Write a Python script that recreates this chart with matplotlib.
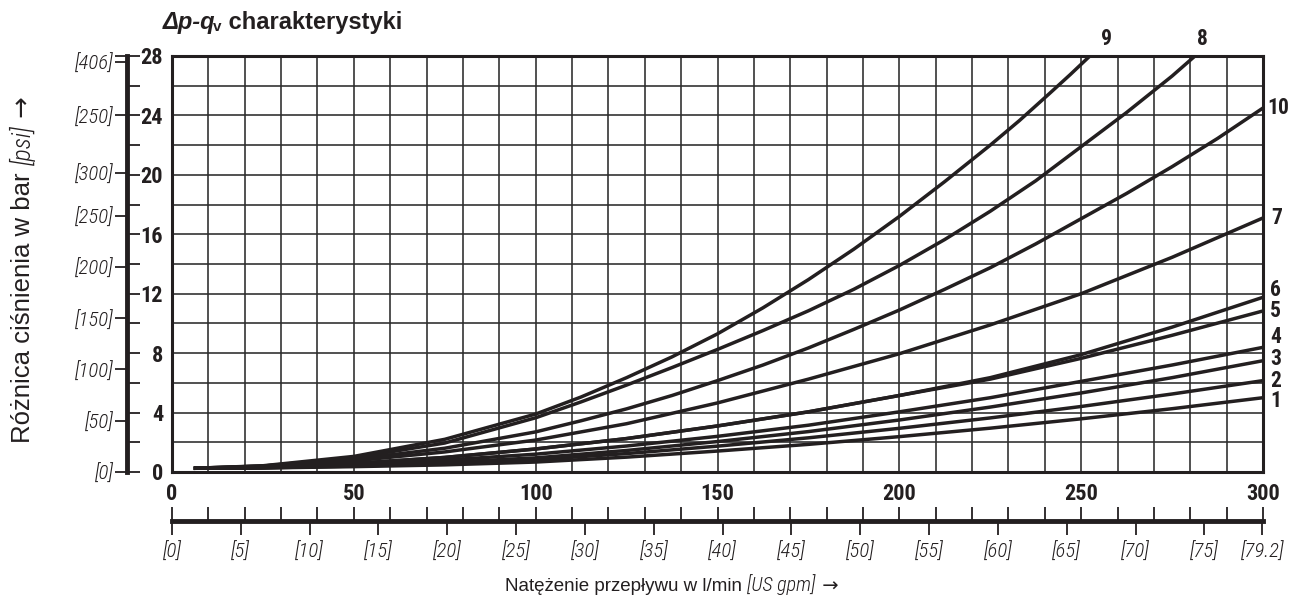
import os
import matplotlib
matplotlib.use("Agg")
import matplotlib.pyplot as plt
from matplotlib import font_manager
from matplotlib.font_manager import FontProperties

# ---------------- data ----------------
flow = [6, 25, 50, 75, 100, 125, 150, 175, 200, 225, 250, 275, 300]
curve_1 = [0.25, 0.27, 0.36, 0.48, 0.67, 1.00, 1.41, 1.86, 2.38, 2.95, 3.58, 4.26, 5.00]
curve_2 = [0.25, 0.28, 0.40, 0.57, 0.83, 1.24, 1.74, 2.30, 2.94, 3.64, 4.41, 5.25, 6.15]
curve_3 = [0.25, 0.28, 0.45, 0.65, 0.95, 1.45, 2.05, 2.72, 3.50, 4.37, 5.32, 6.35, 7.49]
curve_4 = [0.25, 0.30, 0.50, 0.80, 1.20, 1.75, 2.40, 3.15, 4.05, 5.00, 6.10, 7.20, 8.39]
curve_5 = [0.25, 0.32, 0.58, 0.98, 1.55, 2.25, 3.10, 4.05, 5.15, 6.25, 7.65, 9.20, 10.84]
curve_6 = [0.25, 0.32, 0.58, 0.98, 1.55, 2.25, 3.10, 4.05, 5.15, 6.35, 7.90, 9.75, 11.76]
curve_7 = [0.25, 0.35, 0.75, 1.35, 2.15, 3.25, 4.65, 6.25, 7.96, 9.90, 12.00, 14.45, 17.10]

flow_10 = [6, 25, 50, 75, 100, 112.5, 125, 137.5, 150, 162.5, 175, 187.5, 200,
           212.5, 225, 237.5, 250, 262.5, 275, 287.5, 300]
curve_10 = [0.25, 0.40, 0.85, 1.60, 2.70, 3.45, 4.25, 5.15, 6.15, 7.20, 8.35, 9.60, 10.90,
            12.30, 13.75, 15.35, 17.05, 18.75, 20.55, 22.45, 24.50]

flow_8 = [6, 25, 50, 75, 100, 112.5, 125, 137.5, 150, 162.5, 175, 187.5, 200,
          212.5, 225, 237.5, 250, 262.5, 275, 281.3]
curve_8 = [0.25, 0.40, 0.95, 1.95, 3.65, 4.72, 5.85, 7.03, 8.25, 9.52, 10.85, 12.30, 13.90,
           15.65, 17.55, 19.60, 21.90, 24.20, 26.65, 28.00]

flow_9 = [6, 25, 50, 75, 100, 112.5, 125, 137.5, 150, 162.5, 175, 187.5, 200,
          212.5, 225, 233, 241.4, 247, 252.4]
curve_9 = [0.25, 0.42, 1.05, 2.20, 3.90, 5.05, 6.35, 7.75, 9.30, 11.05, 12.95, 15.00, 17.20,
           19.55, 22.00, 23.65, 25.50, 26.75, 28.00]

curve_names = ["1", "2", "3", "4", "5", "6", "7", "10", "8", "9"]

x_ticks = [0, 50, 100, 150, 200, 250, 300]
bar_ticks = [0, 4, 8, 12, 16, 20, 24, 28]
psi_tick_pos = [0, 3.45, 6.9, 10.34, 13.79, 17.24, 20.1, 24.0, 27.6]
psi_tick_labels = ["[0]", "[50]", "[100]", "[150]", "[200]", "[250]", "[300]", "[250]", "[406]"]
gpm_ticks = [0, 5, 10, 15, 20, 25, 30, 35, 40, 45, 50, 55, 60, 65, 70, 75, 79.2]
gpm_labels = ["[0]", "[5]", "[10]", "[15]", "[20]", "[25]", "[30]", "[35]", "[40]",
              "[45]", "[50]", "[55]", "[60]", "[65]", "[70]", "[75]", "[79.2]"]
LPM_PER_GPM = 3.78541

# ---------------- fonts ----------------
files = {os.path.basename(f.fname): f.fname for f in font_manager.fontManager.ttflist}


def pick(names):
    for n in names:
        if n in files:
            return files[n]
    return None


cond_bold = pick(["LiberationSansNarrow-Bold.ttf", "RobotoCondensed-Bold.ttf",
                  "NotoSans-CondensedBold.ttf", "DejaVuSansCondensed-Bold.ttf"])
cond_ital = pick(["RobotoCondensed-LightItalic.ttf", "LiberationSansNarrow-Italic.ttf",
                  "RobotoCondensed-Italic.ttf", "NotoSans-CondensedLightItalic.ttf",
                  "NotoSans-CondensedItalic.ttf", "DejaVuSansCondensed-Oblique.ttf"])


def fp_bold(size):
    if cond_bold:
        return FontProperties(fname=cond_bold, size=size)
    return FontProperties(family="DejaVu Sans", weight="bold", size=size, stretch="condensed")


def fp_ital(size):
    if cond_ital:
        return FontProperties(fname=cond_ital, size=size)
    return FontProperties(family="DejaVu Sans", style="italic", size=size)


SANS = "Liberation Sans"
INK = "#231f20"

# ---------------- figure ----------------
W, H = 1293, 599
fig = plt.figure(figsize=(W / 100, H / 100), dpi=100)


def fx(px):
    return px / W


def fy(py):
    return 1 - py / H


X0, X1, Y0, Y1 = 172, 1263, 56, 472
ax = fig.add_axes([fx(X0), fy(Y1), (X1 - X0) / W, (Y1 - Y0) / H])
ax.set_xlim(0, 300)
ax.set_ylim(0, 28)
ax.set_xticks(x_ticks)
ax.set_xticks(range(0, 301, 10), minor=True)
ax.set_yticks(range(0, 29, 2))
ax.set_yticklabels([])
ax.tick_params(which="both", length=0)
ax.tick_params(axis="x", pad=8, colors=INK)
for lbl in ax.get_xticklabels():
    lbl.set_fontproperties(fp_bold(16))
ax.grid(which="both", color="#2b2b2b", linewidth=1.15)
ax.set_axisbelow(True)
for s in ax.spines.values():
    s.set_linewidth(2.2)
    s.set_color(INK)

series = [(flow, curve_1), (flow, curve_2), (flow, curve_3), (flow, curve_4),
          (flow, curve_5), (flow, curve_6), (flow, curve_7), (flow_10, curve_10),
          (flow_8, curve_8), (flow_9, curve_9)]
# label offsets in points (position/style only)
label_off = {"1": (5, -2.5), "2": (5, 0), "3": (5, 1), "4": (5, 7.5), "5": (5, 0),
             "6": (5, 5.5), "7": (6, 0), "10": (3, 0), "8": (5, 12), "9": (12, 12)}
for name, (xs, ys) in zip(curve_names, series):
    ax.plot(xs, ys, color=INK, linewidth=2.5, solid_capstyle="butt",
            solid_joinstyle="round", zorder=3)
    dx, dy = label_off[name]
    ha = "center" if name in ("8", "9") else "left"
    ax.annotate(name, xy=(xs[-1], ys[-1]), xytext=(dx, dy), textcoords="offset points",
                ha=ha, va="center", fontproperties=fp_bold(15.5), color=INK,
                annotation_clip=False)

# ---------------- left pressure scale ----------------
axl = fig.add_axes([fx(127), fy(Y1), 0.00001, (Y1 - Y0) / H])
axl.set_ylim(0, 28)
axl.set_xticks([])
axl.patch.set_visible(False)
for k in ("top", "bottom", "right"):
    axl.spines[k].set_visible(False)
axl.spines["left"].set_linewidth(3.5)
axl.spines["left"].set_color(INK)
axl.set_yticks(psi_tick_pos)
axl.set_yticklabels(psi_tick_labels)
axl.set_yticks([28], minor=True)
axl.tick_params(axis="y", which="both", direction="out", length=9, width=1.3, pad=0.5, colors=INK)
axl.tick_params(axis="y", which="minor", labelleft=False)
for lbl in axl.get_yticklabels():
    lbl.set_fontproperties(fp_ital(15))

axr = axl.twinx()
axr.set_ylim(0, 28)
axr.patch.set_visible(False)
for s in axr.spines.values():
    s.set_visible(False)
axr.set_yticks(range(0, 29, 2))
axr.set_yticklabels([str(v) if v in bar_ticks else "" for v in range(0, 29, 2)])
axr.tick_params(axis="y", direction="out", length=9, width=1.3, pad=17, colors=INK)
for lbl in axr.get_yticklabels():
    lbl.set_fontproperties(fp_bold(16))
    lbl.set_horizontalalignment("right")

# ---------------- bottom flow scale ----------------
axb = fig.add_axes([fx(X0), fy(521), (X1 - X0) / W, 0.00001])
axb.set_xlim(0, 300)
axb.set_yticks([])
axb.patch.set_visible(False)
for k in ("top", "left", "right"):
    axb.spines[k].set_visible(False)
axb.spines["bottom"].set_linewidth(3.5)
axb.spines["bottom"].set_color(INK)
axb.set_xticks(range(0, 301, 10))
axb.tick_params(axis="x", direction="in", length=10, width=1.3, labelbottom=False, colors=INK)

sec = axb.secondary_xaxis("bottom", functions=(lambda q: q / LPM_PER_GPM,
                                               lambda g: g * LPM_PER_GPM))
sec.set_xticks(gpm_ticks)
sec.set_xticklabels(gpm_labels)
sec.spines["bottom"].set_visible(False)
sec.tick_params(axis="x", direction="out", length=10, width=1.3, pad=5, colors=INK)
for lbl in sec.get_xticklabels():
    lbl.set_fontproperties(fp_ital(15))

# ---------------- texts ----------------
t1 = fig.text(fx(163), fy(29), "\u0394p-q", fontfamily=SANS, fontweight="bold",
              fontstyle="italic", fontsize=17, color=INK, va="baseline")
t2 = plt.annotate("v", xy=(1, 0), xycoords=t1, xytext=(-1.5, 0), textcoords="offset points",
                  fontfamily=SANS, fontsize=11, fontweight="bold", color=INK,
                  ha="left", va="bottom", annotation_clip=False)
plt.annotate(" charakterystyki", xy=(1, 0), xycoords=(t2, t1), fontfamily=SANS,
             fontsize=17, fontweight="bold", color=INK, ha="left", va="bottom",
             annotation_clip=False)

x1 = fig.text(fx(505), fy(591), "Nat\u0119\u017cenie przep\u0142ywu w l/min ",
              fontfamily=SANS, fontsize=13.5, color=INK, va="baseline")
x2 = plt.annotate("[US gpm]", xy=(1, 0), xycoords=x1, fontproperties=fp_ital(14.5),
                  color=INK, ha="left", va="bottom", annotation_clip=False)
plt.annotate(" \u2192", xy=(1, 0), xycoords=x2, fontfamily="DejaVu Sans", fontsize=14,
             color=INK, ha="left", va="bottom", annotation_clip=False)

y1 = fig.text(fx(23), fy(443), "R\u00f3\u017cnica ci\u015bnienia w bar ", rotation=90,
              fontfamily=SANS, fontsize=18.5, color=INK, ha="center", va="bottom")
y2 = plt.annotate("[psi]", xy=(0.5, 1), xycoords=y1, rotation=90, fontproperties=fp_ital(18.5),
                  color=INK, ha="center", va="bottom", annotation_clip=False)
plt.annotate(" \u2192", xy=(0.5, 1), xycoords=y2, rotation=90, fontfamily="DejaVu Sans",
             fontsize=18.5, color=INK, ha="center", va="bottom", annotation_clip=False)

fig.savefig("out.png", dpi=100)
